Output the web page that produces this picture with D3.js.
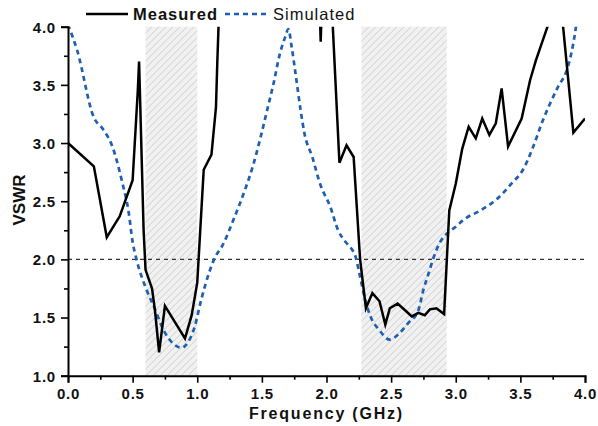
<!DOCTYPE html>
<html>
<head>
<meta charset="utf-8">
<script src="https://cdn.jsdelivr.net/npm/d3@7"></script>
<style>
  html, body { margin: 0; padding: 0; background: #fff; }
  svg { display: block; font-family: "Liberation Sans", Arial, sans-serif; }
</style>
</head>
<body>
<div class="chart"></div>
<script>
'use strict';

// measured VSWR (values above 4 go off the top and are clipped)
var measuredFreq = [0.0, 0.2, 0.3, 0.4, 0.5, 0.54, 0.55, 0.585, 0.6, 0.65, 0.673, 0.705, 0.75, 0.905, 0.957,
  1.0, 1.05, 1.11, 1.145, 1.155, 1.18, 1.5, 1.94, 1.955, 1.97, 2.04, 2.1, 2.155, 2.21, 2.26, 2.305, 2.355,
  2.41, 2.455, 2.49, 2.55, 2.61, 2.66, 2.71, 2.76, 2.8, 2.85, 2.91, 2.95, 3.0, 3.05, 3.1, 3.155, 3.205,
  3.26, 3.31, 3.355, 3.405, 3.51, 3.575, 3.62, 3.75, 3.8, 3.91, 4.0];
var measuredVswr = [3.0, 2.8, 2.19, 2.37, 2.68, 3.45, 3.7, 2.25, 1.91, 1.75, 1.56, 1.2, 1.6, 1.32, 1.52,
  1.8, 2.77, 2.9, 3.31, 3.69, 4.5, 6.0, 4.4, 3.87, 4.4, 4.2, 2.83, 2.98, 2.88, 2.0, 1.58, 1.71,
  1.64, 1.44, 1.58, 1.62, 1.56, 1.51, 1.54, 1.52, 1.57, 1.58, 1.53, 2.42, 2.65, 2.95, 3.14, 3.04, 3.21,
  3.07, 3.17, 3.47, 2.97, 3.21, 3.54, 3.71, 4.13, 4.35, 3.09, 3.21];

// simulated VSWR
var simFreq = [0.0, 0.07, 0.2, 0.27, 0.34, 0.42, 0.47, 0.5, 0.53, 0.6, 0.67, 0.74, 0.81, 0.88, 0.93, 0.98,
  1.03, 1.09, 1.13, 1.2, 1.28, 1.37, 1.43, 1.49, 1.54, 1.59, 1.64, 1.68, 1.705, 1.73, 1.76, 1.8, 1.83,
  1.89, 1.95, 2.03, 2.09, 2.14, 2.2, 2.22, 2.26, 2.3, 2.34, 2.41, 2.49, 2.56, 2.63, 2.71, 2.75, 2.79,
  2.83, 2.88, 2.93, 3.0, 3.06, 3.19, 3.32, 3.43, 3.52, 3.6, 3.665, 3.73, 3.79, 3.86, 3.905, 3.93, 3.96];
var simVswr = [4.02, 3.8, 3.22, 3.12, 2.98, 2.66, 2.4, 2.15, 2.0, 1.76, 1.58, 1.39, 1.28, 1.24, 1.29, 1.42,
  1.65, 1.88, 2.0, 2.13, 2.34, 2.6, 2.8, 3.05, 3.28, 3.51, 3.77, 3.91, 3.98, 3.83, 3.6, 3.28, 3.08,
  2.88, 2.65, 2.45, 2.25, 2.16, 2.08, 2.04, 1.85, 1.65, 1.51, 1.39, 1.31, 1.36, 1.45, 1.56, 1.74, 1.88,
  2.02, 2.15, 2.22, 2.28, 2.34, 2.42, 2.52, 2.65, 2.77, 2.97, 3.17, 3.34, 3.48, 3.63, 3.83, 4.0, 4.3];

// operating bands (GHz)
var bands = [[0.6, 1.0], [2.27, 2.93]];
var threshold = 2.0;

var xTicks = [0, 0.5, 1, 1.5, 2, 2.5, 3, 3.5, 4];
var yTicks = [1, 1.5, 2, 2.5, 3, 3.5, 4];
var seriesNames = ['Measured', 'Simulated'];

var W = 598, H = 426;
var margin = {top: 26.7, right: 13, bottom: 50.3, left: 68};
var width = W - margin.left - margin.right,
    height = H - margin.top - margin.bottom;

var blue = '#1f5fb0';

var svg = d3.select('.chart').append('svg')
  .attr('width', W)
  .attr('height', H);

var defs = svg.append('defs');
var hatch = defs.append('pattern')
  .attr('id', 'hatch')
  .attr('patternUnits', 'userSpaceOnUse')
  .attr('width', 7)
  .attr('height', 7);
hatch.append('rect').attr('width', 7).attr('height', 7).attr('fill', '#f0f1f0');
hatch.append('path')
  .attr('d', 'M-1,8 L8,-1 M-1,1 L1,-1 M6,8 L8,6')
  .attr('stroke', '#c4c4c4')
  .attr('stroke-width', 0.8);

defs.append('clipPath').attr('id', 'plot-clip')
  .append('rect').attr('width', width).attr('height', height);

var g = svg.append('g').attr('transform', 'translate(' + margin.left + ',' + margin.top + ')');

var x = d3.scaleLinear().domain([0, 4]).range([0, width]);
var y = d3.scaleLinear().domain([1, 4]).range([height, 0]);

// shaded bands
g.selectAll('.band').data(bands).enter().append('rect')
  .attr('class', 'band')
  .attr('x', function(d) { return x(d[0]); })
  .attr('width', function(d) { return x(d[1]) - x(d[0]); })
  .attr('y', 0)
  .attr('height', height)
  .attr('fill', 'url(#hatch)');

// 2.0 reference line
g.append('line')
  .attr('x1', 0).attr('x2', width)
  .attr('y1', y(threshold)).attr('y2', y(threshold))
  .attr('stroke', '#333')
  .attr('stroke-width', 1.1)
  .attr('stroke-dasharray', '4,4');

var plot = g.append('g').attr('clip-path', 'url(#plot-clip)');

var lineGen = d3.line()
  .x(function(d) { return x(d[0]); })
  .y(function(d) { return y(d[1]); });

var simulated = d3.zip(simFreq, simVswr);
var measured = d3.zip(measuredFreq, measuredVswr);

plot.append('path')
  .datum(simulated)
  .attr('d', lineGen.curve(d3.curveMonotoneX))
  .attr('fill', 'none')
  .attr('stroke', blue)
  .attr('stroke-width', 2.7)
  .attr('stroke-dasharray', '5,4');

plot.append('path')
  .datum(measured)
  .attr('d', lineGen.curve(d3.curveLinear))
  .attr('fill', 'none')
  .attr('stroke', '#000')
  .attr('stroke-width', 2.5)
  .attr('stroke-linejoin', 'miter');

// axes
g.append('g').attr('transform', 'translate(0,' + height + ')')
  .call(d3.axisBottom(x).tickValues(d3.range(0.25, 4, 0.5)).tickSize(4).tickFormat(''))
  .call(function(a) { a.select('.domain').remove(); });
g.append('g').attr('transform', 'translate(0,' + height + ')')
  .call(d3.axisBottom(x).tickValues(xTicks).tickSize(7).tickPadding(6).tickFormat(d3.format('.1f')));

g.append('g')
  .call(d3.axisLeft(y).tickValues(d3.range(1.25, 4, 0.5)).tickSize(4).tickFormat(''))
  .call(function(a) { a.select('.domain').remove(); });
var yMajor = g.append('g')
  .call(d3.axisLeft(y).tickValues(yTicks).tickSize(7).tickPadding(5).tickFormat(d3.format('.1f')));

g.selectAll('.domain').attr('stroke', '#000').attr('stroke-width', 2);
g.selectAll('.tick line').attr('stroke', '#000').attr('stroke-width', 1.6);
g.selectAll('.tick text')
  .attr('fill', '#111')
  .style('font-size', '15px')
  .style('font-weight', 'bold')
  .style('letter-spacing', '0.8px');
yMajor.selectAll('.tick text').attr('dy', '0.36em');

// axis titles
svg.append('text')
  .attr('x', margin.left + width / 2)
  .attr('y', 419)
  .attr('text-anchor', 'middle')
  .style('font-size', '16px')
  .style('font-weight', 'bold')
  .style('letter-spacing', '1.8px')
  .attr('fill', '#111')
  .text('Frequency (GHz)');

svg.append('text')
  .attr('transform', 'translate(25,200) rotate(-90)')
  .attr('text-anchor', 'middle')
  .style('font-size', '17px')
  .style('font-weight', 'bold')
  .attr('fill', '#111')
  .text('VSWR');

// legend
var legend = svg.append('g');
legend.append('line')
  .attr('x1', 86).attr('x2', 128).attr('y1', 14).attr('y2', 14)
  .attr('stroke', '#000').attr('stroke-width', 2.5);
legend.append('text')
  .attr('x', 133).attr('y', 20)
  .style('font-size', '16.5px').style('font-weight', 'bold').style('letter-spacing', '1px')
  .attr('fill', '#111')
  .text(seriesNames[0]);
legend.append('line')
  .attr('x1', 225).attr('x2', 268).attr('y1', 14).attr('y2', 14)
  .attr('stroke', blue).attr('stroke-width', 2.7).attr('stroke-dasharray', '5,4');
legend.append('text')
  .attr('x', 273).attr('y', 20)
  .style('font-size', '16.5px').style('letter-spacing', '1px')
  .attr('fill', '#111')
  .text(seriesNames[1]);
</script>
</body>
</html>
